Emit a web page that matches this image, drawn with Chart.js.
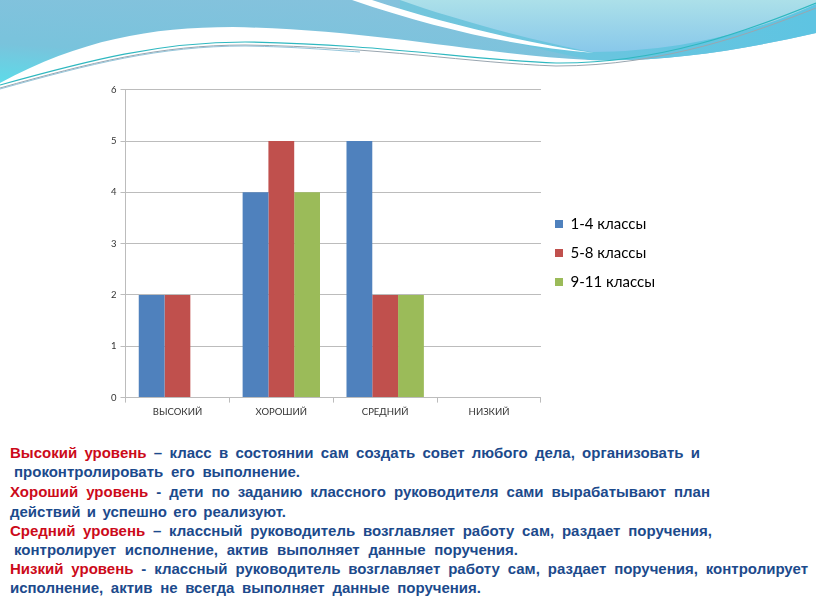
<!DOCTYPE html>
<html>
<head>
<meta charset="utf-8">
<script src="https://cdn.jsdelivr.net/npm/chart.js@4"></script>
<style>
html,body{margin:0;padding:0;background:#fff;}
body{width:816px;height:613px;position:relative;overflow:hidden;}
#deco{position:absolute;left:0;top:0;}
#box{position:absolute;left:107px;top:80px;width:575px;height:345px;}
#notes{position:absolute;left:0;top:443px;width:816px;font-family:"Liberation Sans",Arial,sans-serif;font-weight:bold;font-size:15px;color:#1c4a8c;}
#notes div{position:absolute;height:20px;line-height:20px;white-space:nowrap;transform-origin:0 50%;}
#notes b{color:#cc0a1a;}
</style>
</head>
<body>
<svg id="deco" width="816" height="100" viewBox="0 0 816 100">
<defs>
<linearGradient id="g1" x1="0" y1="1" x2="0.6" y2="0">
<stop offset="0" stop-color="#5ddbe9"/>
<stop offset="0.35" stop-color="#79c3dc"/>
<stop offset="1" stop-color="#86c2dd"/>
</linearGradient>
<linearGradient id="g2" x1="0" y1="0" x2="0" y2="1">
<stop offset="0" stop-color="#ace0e9"/>
<stop offset="1" stop-color="#88c8ea"/>
</linearGradient>
<linearGradient id="g3" x1="0" y1="0" x2="1" y2="0">
<stop offset="0" stop-color="#74c6dc"/>
<stop offset="1" stop-color="#5ec4e2"/>
</linearGradient>
</defs>
<path d="M0,0 L816,0 L816,33 C740,50 670,62 590,60 C480,55 380,30 233,27 C150,27 80,40 0,83 Z" fill="url(#g1)"/>
<path d="M400,10 C460,30 530,48 590,60 C670,62 740,50 816,33 L816,0 L400,0 Z" fill="url(#g3)"/>
<path d="M365,0 L816,0 L816,4 C750,35 670,52 592,52 C530,40 450,18 400,0 Z" fill="url(#g2)"/>
<path d="M372,0 C440,22 520,42 594,53 C520,47 440,30 352,0 Z" fill="#ffffff"/>
<path d="M0,85 C90,60 160,42 245,42 C380,44 470,60 556,63 C660,64 750,30 816,3" fill="none" stroke="#2fb8c0" stroke-width="1.2"/>
<path d="M0,88 C90,63 160,45 245,45 C380,47 470,63 556,66 C665,66 755,32 816,8" fill="none" stroke="#9aa6b0" stroke-width="1"/>
<path d="M0,89 C90,64 160,46 245,46 C300,47 330,50 360,52" fill="none" stroke="#7ab6d0" stroke-width="0.8"/>
</svg>

<div id="box"><canvas id="chart"></canvas></div>

<div id="notes">
<div data-w="690" style="left:10px;top:0px;"><b>Высокий уровень</b> – класс в состоянии сам создать совет любого дела, организовать и</div>
<div data-w="286" style="left:14px;top:19px;">проконтролировать его выполнение.</div>
<div data-w="700" style="left:10px;top:39px;"><b>Хороший уровень</b> - дети по заданию классного руководителя сами вырабатывают план</div>
<div data-w="276" style="left:10px;top:59px;">действий и успешно его реализуют.</div>
<div data-w="702" style="left:10px;top:78px;"><b>Средний уровень</b> – классный руководитель возглавляет работу сам, раздает поручения,</div>
<div data-w="504" style="left:14px;top:97px;">контролирует исполнение, актив выполняет данные поручения.</div>
<div data-w="798" style="left:10px;top:116px;"><b>Низкий уровень</b> - классный руководитель возглавляет работу сам, раздает поручения, контролирует</div>
<div data-w="471" style="left:10px;top:135px;">исполнение, актив не всегда выполняет данные поручения.</div>
</div>

<script>
const categories = ["ВЫСОКИЙ","ХОРОШИЙ","СРЕДНИЙ","НИЗКИЙ"];
const seriesNames = ["1-4 классы","5-8 классы","9-11 классы"];
const grades14 = [2,4,5,0];
const grades58 = [2,5,2,0];
const grades911 = [0,4,2,0];
const yTicks = [0,1,2,3,4,5,6];

const colors = ["#4f81bd","#c0504d","#9bbb59"];
const gridColor = "#bcbcbc";

// spread words to the line width, squeeze only if the line is too long
document.querySelectorAll("#notes div").forEach(el=>{
const target = Number(el.dataset.w);
const natural = el.getBoundingClientRect().width;
const spaces = (el.textContent.match(/ /g)||[]).length;
const extra = (target-natural)/spaces;
if(extra>0){
el.style.wordSpacing = extra+"px";
}else{
el.style.transform = "scaleX("+(target/natural)+")";
}
});

const canvas = document.getElementById("chart");

new Chart(canvas,{
type:"bar",
data:{
labels:categories,
datasets:[grades14,grades58,grades911].map((d,i)=>({
label:seriesNames[i],
data:d,
backgroundColor:colors[i],
borderWidth:0,
categoryPercentage:0.745,
barPercentage:1
}))
},
options:{
responsive:true,
maintainAspectRatio:false,
animation:false,
layout:{padding:{top:4,bottom:3,left:0,right:17}},
plugins:{
tooltip:{enabled:false},
legend:{
position:"right",
labels:{
boxWidth:8,
boxHeight:8,
padding:14,
color:"#000",
font:{family:"Lato",size:15}
}
}
},
scales:{
x:{
offset:true,
grid:{display:true,offset:true,drawOnChartArea:false,drawTicks:true,tickLength:5,color:gridColor},
border:{color:gridColor},
ticks:{color:"#333",font:{family:"Lato",size:9.5},padding:4}
},
y:{
min:yTicks[0],
max:yTicks[yTicks.length-1],
afterBuildTicks:axis=>{axis.ticks=yTicks.map(v=>({value:v}));},
grid:{color:gridColor,tickLength:5},
border:{color:gridColor},
ticks:{color:"#333",font:{family:"Lato",size:9.5},padding:4}
}
}
}
});
</script>
</body>
</html>
